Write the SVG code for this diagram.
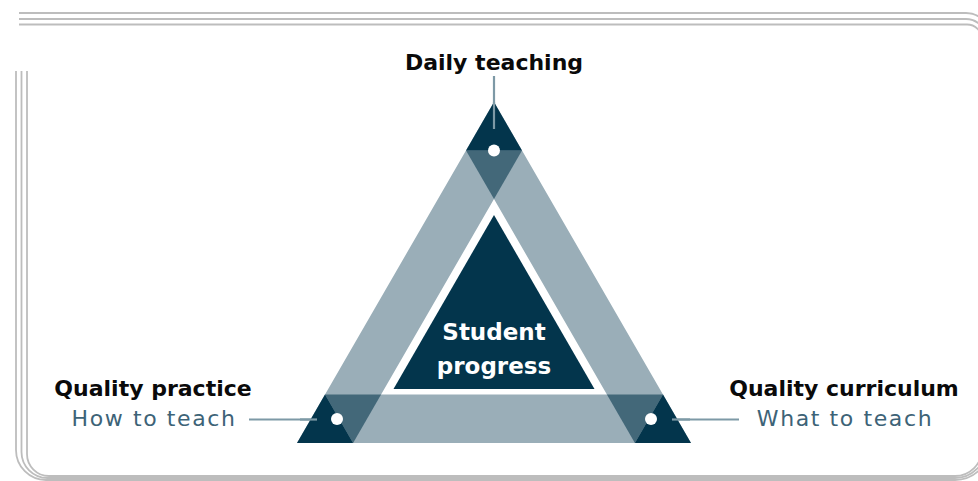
<svg xmlns="http://www.w3.org/2000/svg" width="978" height="481" viewBox="0 0 978 481">
<style>
.frame{fill:none;stroke:#bdbdbd;stroke-width:1.8}
.band{fill:#9aaeb8}
.dark{fill:#03354c}
.mid{fill:#436879}
.dot{fill:#ffffff}
.conn{stroke:#7d99a6;stroke-width:2.2;fill:none}
.title{font-family:"DejaVu Sans",sans-serif;font-weight:bold;font-size:22px;fill:#0a0a0a;text-anchor:middle}
.sub{font-family:"DejaVu Sans",sans-serif;font-size:22px;fill:#3d6377;text-anchor:middle;letter-spacing:1.6px}
.center{font-family:"DejaVu Sans",sans-serif;font-weight:bold;font-size:23px;fill:#ffffff;text-anchor:middle}
</style>
<rect width="978" height="481" fill="#ffffff"/>
<g id="frame">
<path class="frame" d="M19,13 H966 A24,24 0 0 1 990,37 V445 A35,35 0 0 1 955,480 H46 A30,30 0 0 1 16,450 V71"/>
<path class="frame" d="M19,19 H966 A20,20 0 0 1 986,39 V447 A31,31 0 0 1 955,478 H47.5 A26,26 0 0 1 21.5,452 V71"/>
<path class="frame" d="M19,24.5 H967 A15,15 0 0 1 982,39.5 V449 A27,27 0 0 1 955,476 H49 A22,22 0 0 1 27,454 V71"/>
</g>
<g id="triangle-band">
<path class="band" fill-rule="evenodd" d="M297,443 L494,102 L691,443 Z M381.1,394.5 L606.9,394.5 L494,199 Z"/>
</g>
<g id="student-progress">
<polygon class="dark" points="494,215 594.5,389 393.5,389"/>
<text class="center" x="494" y="340">Student</text>
<text class="center" x="494" y="374">progress</text>
</g>
<g id="connectors">
<line class="conn" x1="494" y1="76" x2="494" y2="129"/>
<line class="conn" x1="249" y1="419.5" x2="317" y2="419.5"/>
<line class="conn" x1="672" y1="419.5" x2="739" y2="419.5"/>
</g>
<g id="daily-teaching">
<polygon class="mid" points="466,150.5 522,150.5 494,199"/>
<polygon class="dark" points="494,102 522,150.5 466,150.5"/>
<line class="conn" x1="494" y1="102" x2="494" y2="129"/>
<circle class="dot" cx="494" cy="150.5" r="6"/>
<text class="title" x="494" y="70">Daily teaching</text>
</g>
<g id="quality-practice">
<polygon class="mid" points="325,394.5 381.1,394.5 353.1,443"/>
<polygon class="dark" points="297,443 325,394.5 353.1,443"/>
<line class="conn" x1="300" y1="419.5" x2="317" y2="419.5"/>
<circle class="dot" cx="337" cy="419" r="6"/>
<text class="title" x="153" y="396">Quality practice</text>
<text class="sub" x="154" y="426">How to teach</text>
</g>
<g id="quality-curriculum">
<polygon class="mid" points="663,394.5 606.9,394.5 634.9,443"/>
<polygon class="dark" points="691,443 663,394.5 634.9,443"/>
<line class="conn" x1="672" y1="419.5" x2="690" y2="419.5"/>
<circle class="dot" cx="651" cy="419" r="6"/>
<text class="title" x="844" y="396">Quality curriculum</text>
<text class="sub" x="845" y="426">What to teach</text>
</g>
</svg>
